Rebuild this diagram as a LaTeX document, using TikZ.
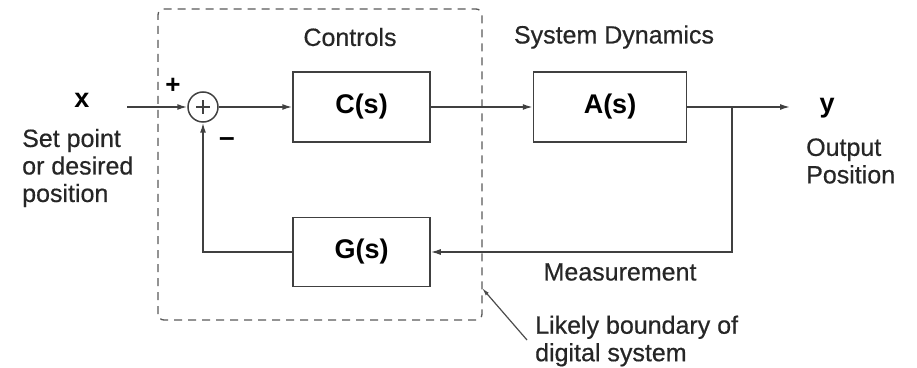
\documentclass[tikz,border=0pt]{standalone}
\usepackage{fontspec}
\setmainfont{Liberation Sans}
\newfontfamily\semib[FakeBold=0.5]{Liberation Sans}
\usetikzlibrary{arrows.meta}
\begin{document}
\begin{tikzpicture}[x=1pt,y=1pt,
  ln/.style={line width=1.5pt, draw=black!75},
  arr/.style={ln, -{Latex[length=10pt,width=6pt]}},
  blk/.style={ln, rectangle, minimum height=70pt, inner sep=0pt, font=\fontsize{27}{30}\selectfont\bfseries},
  lbl/.style={font=\semib\fontsize{25}{27.5}\selectfont, text=black!85, inner sep=0pt},
  big/.style={font=\fontsize{27}{30}\selectfont\bfseries, inner sep=0pt}]
\useasboundingbox (0,0) rectangle (917,367);
% dashed boundary
\draw[line width=1.3pt, draw=black!65, dash pattern=on 8pt off 6pt, rounded corners=6pt]
  (158,47) rectangle (482,358);
% blocks
\node[ln, circle, minimum size=30pt, inner sep=0pt] (sum) at (203,260) {};
\draw[ln, line width=1.9pt] ([xshift=-7pt]sum.center) -- ([xshift=7pt]sum.center)
          ([yshift=-7pt]sum.center) -- ([yshift=7pt]sum.center);
\node[blk, minimum width=137pt] (C) at (361.5,260) {C(s)};
\node[blk, minimum width=153pt] (A) at (610,260) {A(s)};
\node[blk, minimum width=137pt, minimum height=69pt] (G) at (361.5,115) {G(s)};
% coordinates
\coordinate (in) at (127,260);
\coordinate (br) at (732,260);
\coordinate (out) at (790,260);
\coordinate (brd) at (732,115);
\coordinate (fbc) at (203,115);
% connectors
\draw[arr] (in) -- (sum.west);
\draw[arr] (sum.east) -- (C.west);
\draw[arr] (C.east) -- (A.west);
\draw[arr] (A.east) -- (out);
\draw[arr] (br) -- (brd) -- (G.east);
\draw[arr] (G.west) -- (fbc) -- (sum.south);
% labels
\node[big] (xl) at (82,267) {x};
\node[big] (yl) at (827,259) {y};
\node[font=\fontsize{26}{26}\selectfont\bfseries, inner sep=0pt] (plus) at (173,281) {+};
\node[font=\fontsize{28}{28}\selectfont\bfseries, inner sep=0pt] (minus) at (227,225) {\textendash};
\node[lbl] (ctl) at (350,330) {Controls};
\node[lbl] (sd) at (614,330) {System Dynamics};
\node[lbl, anchor=west, align=left] (sp) at (22,199) {Set point\\or desired\\position};
\node[lbl, anchor=west, align=left] (op) at (806,206) {Output\\Position};
\node[lbl] (meas) at (620,95) {Measurement};
\node[lbl, anchor=west, align=left] (lb) at (535,26) {Likely boundary of\\digital system};
\coordinate (lbt) at (482,79);
\draw[line width=1.2pt, draw=black!70, -{Latex[length=8pt,width=4pt]}] (527,27) -- (lbt);
\end{tikzpicture}
\end{document}
